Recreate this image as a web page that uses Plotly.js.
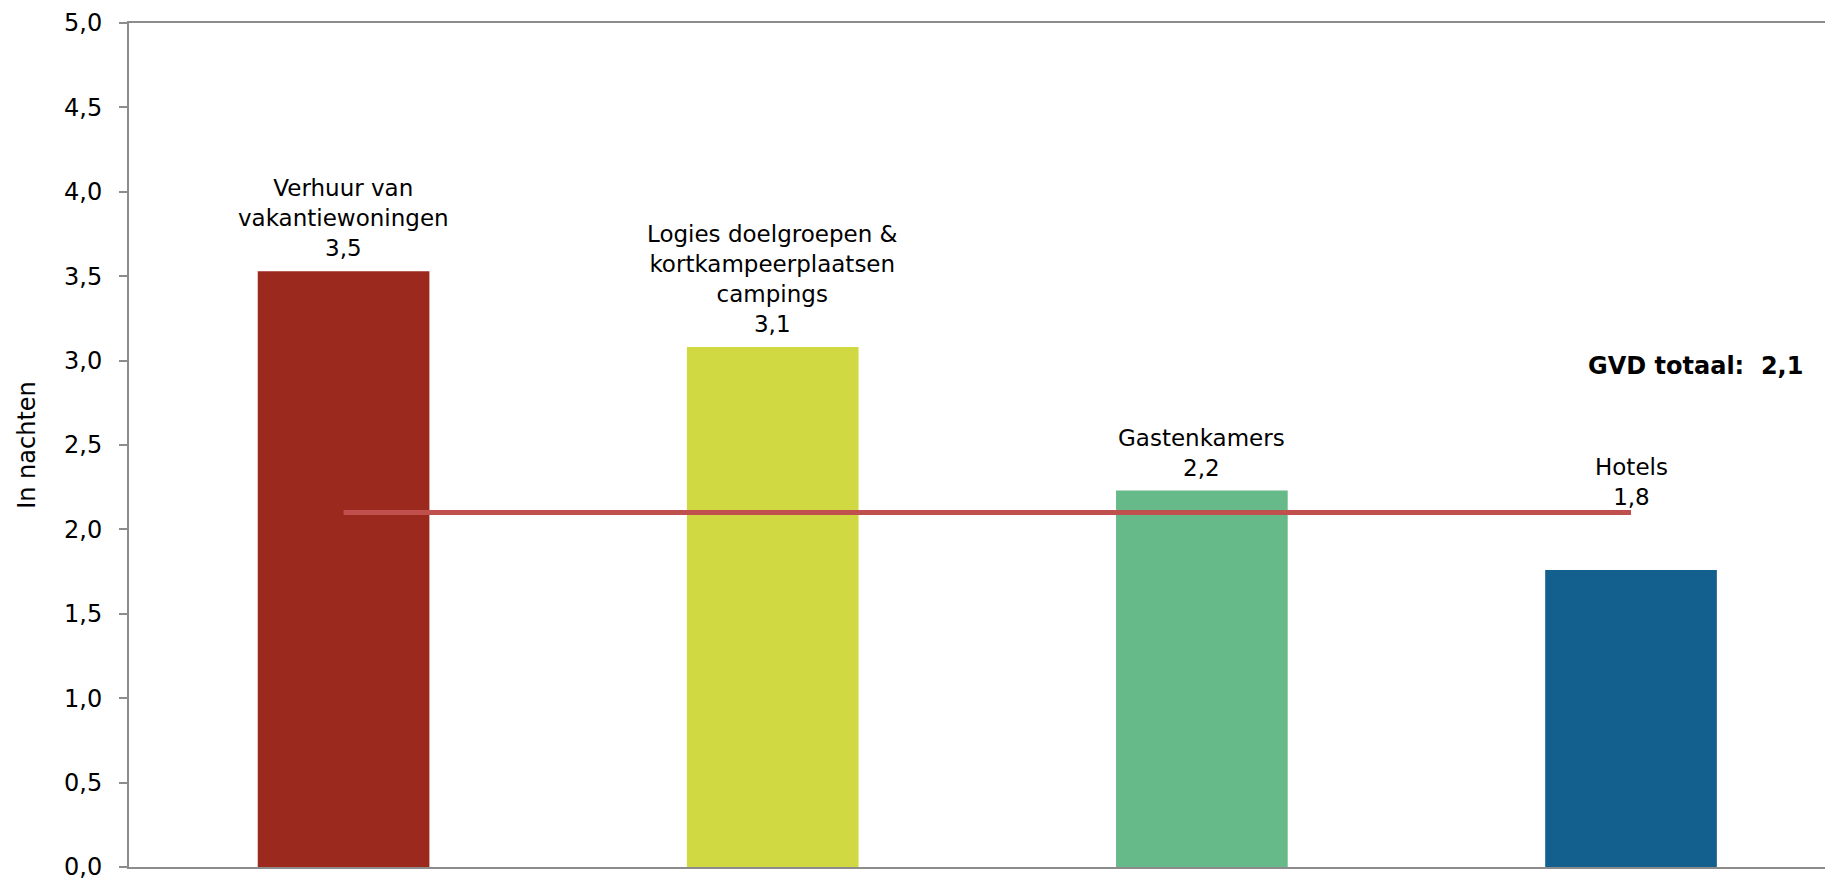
<!DOCTYPE html>
<html>
<head>
<meta charset="utf-8">
<script src="https://cdn.plot.ly/plotly-3.0.1.min.js"></script>
<style>html,body{margin:0;padding:0;background:#fff;}#chart{width:1825px;height:879px;}</style>
</head>
<body>
<div id="chart"></div>
<script>
const categories = ["Verhuur van<br>vakantiewoningen", "Logies doelgroepen &<br>kortkampeerplaatsen<br>campings", "Gastenkamers", "Hotels"];
const values = [3.53, 3.08, 2.23, 1.76];
const valueLabels = ["3,5", "3,1", "2,2", "1,8"];
const totalValue = 2.1;
const totalLabel = "GVD totaal:  2,1";
const yTickVals = [0, 0.5, 1, 1.5, 2, 2.5, 3, 3.5, 4, 4.5, 5];

const barColors = ["#9B291D", "#D0D942", "#66BA89", "#13608F"];
const labelShift = [8, 8, 8, 58];
const FONT = "DejaVu Sans, Verdana, sans-serif";

const xIdx = categories.map((c, i) => i);

const bars = {
  type: "bar",
  x: xIdx,
  y: values,
  width: 0.4,
  marker: {color: barColors},
  hoverinfo: "skip",
  showlegend: false
};

const totalLine = {
  type: "scatter",
  mode: "lines",
  x: xIdx,
  y: xIdx.map(() => totalValue),
  line: {color: "#C0504D", width: 5},
  hoverinfo: "skip",
  showlegend: false
};

const annotations = categories.map((c, i) => ({
  x: i, y: values[i], xref: "x", yref: "y",
  text: c + "<br>" + valueLabels[i],
  showarrow: false, yanchor: "bottom", xanchor: "center",
  yshift: labelShift[i],
  font: {family: FONT, size: 23, color: "#000"}
}));
annotations.push({
  xref: "paper", yref: "paper", x: 1, y: 0.594,
  xanchor: "right", yanchor: "middle", xshift: -20,
  text: "<b>" + totalLabel + "</b>", showarrow: false,
  font: {family: FONT, size: 24, color: "#000"}
});

const layout = {
  width: 1825, height: 879,
  margin: {l: 129, r: 0, t: 23, b: 12, pad: 0},
  paper_bgcolor: "#fff", plot_bgcolor: "#fff",
  separators: ",.",
  font: {family: FONT, color: "#000"},
  xaxis: {
    range: [-0.5, 3.452], showgrid: false, zeroline: false,
    showticklabels: false, ticks: "",
    showline: true, linecolor: "#8C8C8C", linewidth: 2, mirror: true,
    fixedrange: true
  },
  yaxis: {
    range: [0, 5], tickvals: yTickVals, tickformat: ".1f",
    showgrid: false, zeroline: false,
    showline: true, linecolor: "#8C8C8C", linewidth: 2,
    ticks: "outside", ticklen: 8, tickwidth: 2, tickcolor: "#8C8C8C",
    ticklabelstandoff: 12,
    ticklabeloverflow: "allow",
    tickfont: {family: FONT, size: 24, color: "#000"},
    title: {text: "In nachten", font: {family: FONT, size: 24, color: "#000"}, standoff: 22},
    fixedrange: true
  },
  annotations: annotations
};

Plotly.newPlot("chart", [bars, totalLine], layout, {displayModeBar: false, staticPlot: true});
</script>
</body>
</html>
